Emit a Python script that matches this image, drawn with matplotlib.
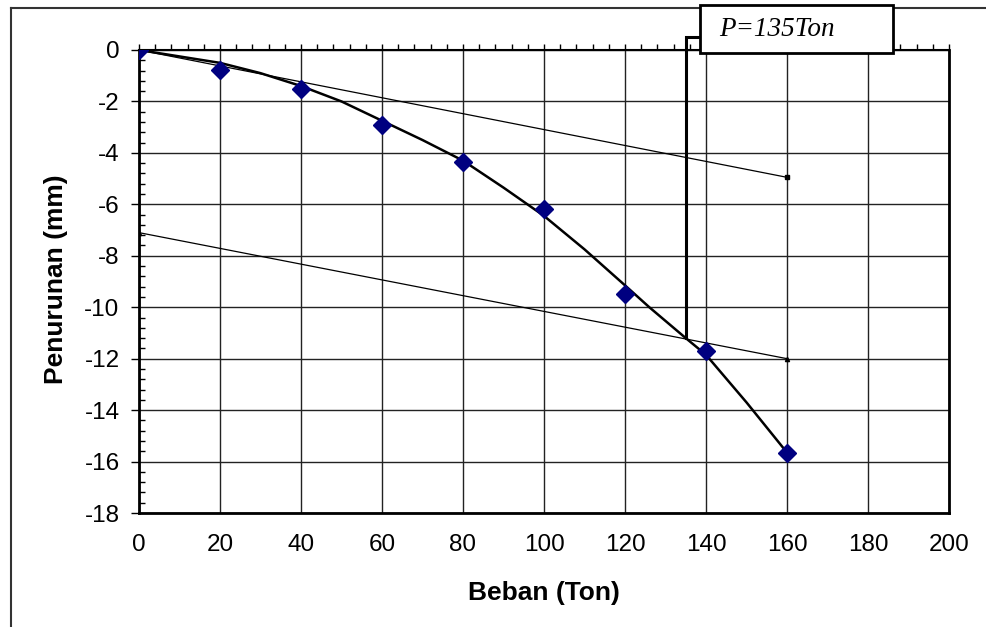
import matplotlib
matplotlib.use("Agg")
import matplotlib.pyplot as plt
from matplotlib.patches import Rectangle
from matplotlib.lines import Line2D
from matplotlib.ticker import MultipleLocator

plt.rcParams["axes.unicode_minus"] = False

# --- data ---
beban = [0, 20, 40, 60, 80, 100, 120, 140, 160]
penurunan = [0, -0.76, -1.5, -2.9, -4.35, -6.2, -9.5, -11.7, -15.65]

curve_x = [0, 10, 20, 30, 40, 50, 60, 70, 80, 90, 100, 110, 120, 126, 135, 140, 150, 160]
curve_y = [0, -0.25, -0.5, -0.9, -1.4, -2.0, -2.75, -3.5, -4.3, -5.35, -6.45, -7.75,
           -9.15, -10.0, -11.2, -11.85, -13.7, -15.65]

line1_x = [0, 160]
line1_y = [0, -4.95]
line2_x = [0, 160]
line2_y = [-7.1, -12.0]

p_load = 135
p_settle = -11.2
label_text = "P=135Ton"

W, H = 987, 627
fig = plt.figure(figsize=(W / 100, H / 100), dpi=100)
fig.patch.set_facecolor("white")

ax = fig.add_axes([139 / W, 1 - 513 / H, (949 - 139) / W, (513 - 50) / H])
ax.set_xlim(0, 200)
ax.set_ylim(-18, 0)

ax.grid(True, which="major", color="#222222", linewidth=1.0)
ax.set_axisbelow(True)

ax.plot(line1_x, line1_y, color="black", linewidth=0.9, zorder=3)
ax.plot(line1_x[-1:], line1_y[-1:], "s", color="black", markersize=2.5, zorder=3)
ax.plot(line2_x, line2_y, color="black", linewidth=0.9, zorder=3)
ax.plot(line2_x, line2_y, "^", color="black", markersize=3, zorder=3)
ax.plot(curve_x, curve_y, color="black", linewidth=1.8, zorder=4)
ax.plot(beban, penurunan, "D", color="#000080", markersize=9, linestyle="none", zorder=5)

# vertical indicator line up to the label box
top_y = 13 / 25.7
box_x = (700 - 139) / 4.05
ax.plot([p_load, p_load, box_x], [p_settle, top_y, top_y], color="black",
        linewidth=2.2, clip_on=False, zorder=6, solid_joinstyle="miter")

ax.xaxis.set_major_locator(MultipleLocator(20))
ax.xaxis.set_minor_locator(MultipleLocator(4))
ax.yaxis.set_major_locator(MultipleLocator(2))
ax.yaxis.set_minor_locator(MultipleLocator(0.4))

ax.tick_params(axis="x", which="major", bottom=False, top=True, direction="out",
               length=4, width=1, labelbottom=True, labeltop=False,
               labelsize=17.5, pad=11)
ax.tick_params(axis="x", which="minor", bottom=False, top=True, direction="out",
               length=4, width=1)
ax.tick_params(axis="y", which="major", left=True, direction="out", length=6,
               width=1, labelsize=17.5, pad=8)
ax.tick_params(axis="y", which="minor", left=True, direction="in", length=4, width=1)

for lab in ax.get_xticklabels() + ax.get_yticklabels():
    lab.set_fontfamily("Liberation Sans")

for s in ["left", "bottom", "right"]:
    ax.spines[s].set_linewidth(2)
    ax.spines[s].set_color("black")
ax.spines["top"].set_linewidth(1.5)

ax.set_xlabel("Beban (Ton)", fontsize=19, fontweight="bold", family="Liberation Sans",
              va="center")
ax.set_ylabel("Penurunan (mm)", fontsize=19, fontweight="bold", family="Liberation Sans",
              va="center")
ax.xaxis.set_label_coords(0.5, (513 - 593) / 463)
ax.yaxis.set_label_coords((56 - 139) / 810, (513 - 279) / 463)

# figure border (top and left)
fig.add_artist(Line2D([11 / W, 11 / W], [0, 1 - 8 / H], transform=fig.transFigure,
                      color="#333333", linewidth=1.5))
fig.add_artist(Line2D([11 / W, 1], [1 - 8 / H, 1 - 8 / H], transform=fig.transFigure,
                      color="#333333", linewidth=1.5))

# label box
fig.add_artist(Rectangle((700 / W, 1 - 53 / H), (893 - 700) / W, 48 / H,
                         transform=fig.transFigure, facecolor="white",
                         edgecolor="black", linewidth=2, zorder=10))
fig.text(719 / W, 1 - 30 / H, label_text, fontsize=19.5, family="Liberation Serif",
         style="italic", va="center", ha="left", zorder=11)

fig.savefig("out.png", dpi=100)
